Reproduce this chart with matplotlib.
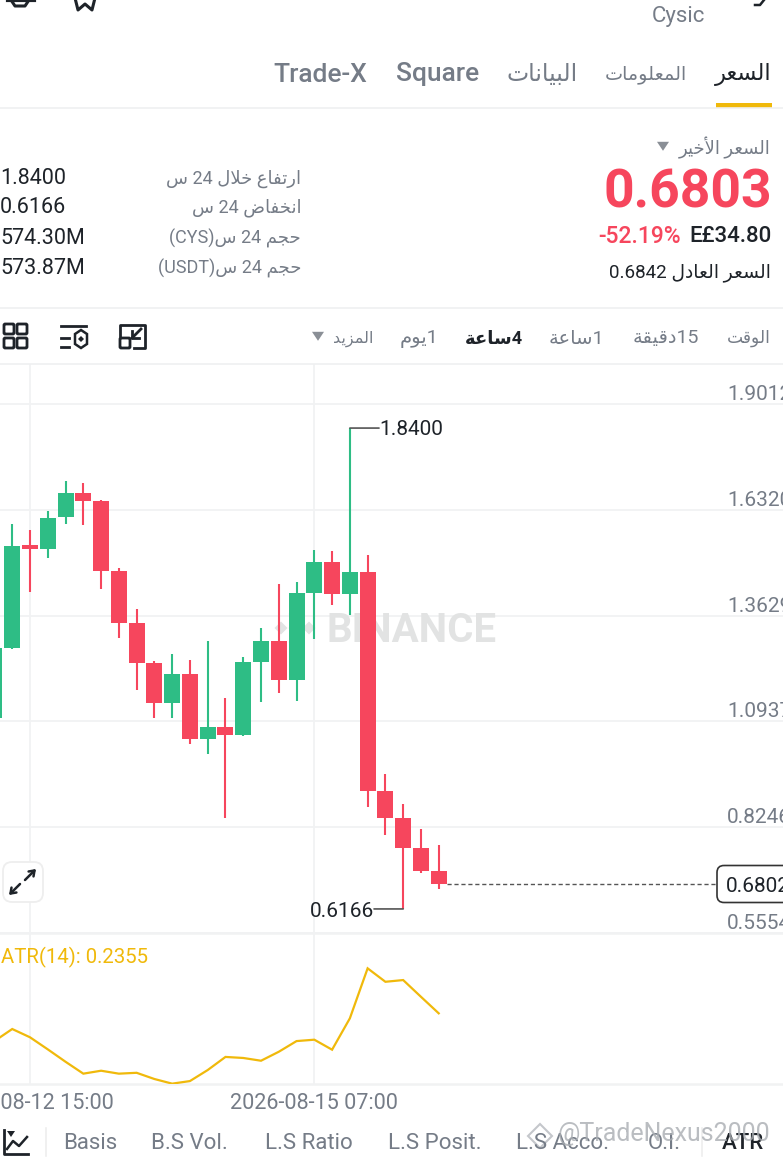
import re
import matplotlib
matplotlib.use('Agg')
import matplotlib.pyplot as plt
from matplotlib.patches import FancyBboxPatch, Rectangle, Polygon

plt.rcParams['font.family'] = ['Roboto', 'DejaVu Sans']

# candles, 4h, oldest first
opens = [1.1024, 1.2797, 1.5417, 1.5323, 1.6130, 1.6748, 1.6537, 1.4764, 1.3441, 1.2415, 1.1405, 1.2136, 1.0490,
         1.0787, 1.0599, 1.2456, 1.2975, 1.1978, 1.4200, 1.4987, 1.4181, 1.4738, 0.9179, 0.8475, 0.7727, 0.7142]
closes = [1.2805, 1.5407, 1.5323, 1.6119, 1.6748, 1.6544, 1.4764, 1.3441, 1.2415, 1.1405, 1.2136, 1.0490, 1.0787,
          1.0599, 1.2448, 1.2975, 1.1978, 1.4200, 1.4987, 1.4181, 1.4738, 0.9179, 0.8475, 0.7727, 0.7142, 0.6803]
highs = [1.2805, 1.5952, 1.5807, 1.6290, 1.7061, 1.6995, 1.6577, 1.4840, 1.3797, 1.2474, 1.2644, 1.2499, 1.2975,
         1.1525, 1.2583, 1.3306, 1.4433, 1.4496, 1.5305, 1.5280, 1.8400, 1.5160, 0.9609, 0.8826, 0.8200, 0.7803]
lows = [1.1024, 1.2779, 1.4222, 1.5087, 1.5959, 1.5926, 1.4313, 1.3059, 1.1729, 1.1031, 1.1031, 1.0355, 1.0108,
        0.8472, 1.0574, 1.1423, 1.1667, 1.1456, 1.3021, 1.3906, 1.3639, 0.8760, 0.8052, 0.6166, 0.7073, 0.6686]
atr = [0.2194, 0.2264, 0.2216, 0.2146, 0.2074, 0.2005, 0.2022, 0.2005, 0.2010, 0.1974, 0.1947, 0.1962, 0.2026,
       0.2102, 0.2096, 0.2080, 0.2132, 0.2194, 0.2202, 0.2144, 0.2326, 0.2616, 0.2538, 0.2548, 0.2451, 0.2355]

price_ticks = [1.9012, 1.6320, 1.3629, 1.0937, 0.8246, 0.5554]
price_labels = ['1.9012', '1.6320', '1.3629', '1.0937', '0.8246', '0.5554']
date_ticks = [2, 18]
date_labels = ['2026-08-12 15:00', '2026-08-15 07:00']
last_tag = 0.6802
high_label = '1.8400'
low_label = '0.6166'
atr_label = 'ATR(14): 0.2355'

tabs = ['السعر', 'المعلومات', 'البيانات', 'Square', 'Trade-X']
intervals = ['الوقت', '15دقيقة', '1ساعة', '4ساعة', '1يوم', 'المزيد']
stat_names = ['ارتفاع خلال 24 س', 'انخفاض 24 س', 'حجم 24 س(CYS)', 'حجم 24 س(USDT)']
stat_values = ['1.8400', '0.6166', '574.30M', '573.87M']
bottom_tabs = ['Basis', 'B.S Vol.', 'L.S Ratio', 'L.S Posit.', 'L.S Acco.', 'O.I.', 'ATR']

GREEN = '#2ebd85'
RED = '#f6465d'
GOLD = '#f0b90b'
DARK = '#1e2329'
GRAY = '#757c87'
GRID = '#f1f2f3'
MARK = '#e2e3e3'

# matplotlib has no arabic shaping, so pick the presentation forms by hand
AR_FORMS = {
    'ا': (0xFE8D, 0xFE8E, None, None), 'أ': (0xFE83, 0xFE84, None, None),
    'ب': (0xFE8F, 0xFE90, 0xFE91, 0xFE92), 'ة': (0xFE93, 0xFE94, None, None),
    'ت': (0xFE95, 0xFE96, 0xFE97, 0xFE98), 'ج': (0xFE9D, 0xFE9E, 0xFE9F, 0xFEA0),
    'ح': (0xFEA1, 0xFEA2, 0xFEA3, 0xFEA4), 'خ': (0xFEA5, 0xFEA6, 0xFEA7, 0xFEA8),
    'د': (0xFEA9, 0xFEAA, None, None), 'ر': (0xFEAD, 0xFEAE, None, None),
    'ز': (0xFEAF, 0xFEB0, None, None), 'س': (0xFEB1, 0xFEB2, 0xFEB3, 0xFEB4),
    'ض': (0xFEBD, 0xFEBE, 0xFEBF, 0xFEC0), 'ع': (0xFEC9, 0xFECA, 0xFECB, 0xFECC),
    'ف': (0xFED1, 0xFED2, 0xFED3, 0xFED4), 'ق': (0xFED5, 0xFED6, 0xFED7, 0xFED8),
    'ل': (0xFEDD, 0xFEDE, 0xFEDF, 0xFEE0), 'م': (0xFEE1, 0xFEE2, 0xFEE3, 0xFEE4),
    'ن': (0xFEE5, 0xFEE6, 0xFEE7, 0xFEE8), 'و': (0xFEED, 0xFEEE, None, None),
    'ي': (0xFEF1, 0xFEF2, 0xFEF3, 0xFEF4),
}
LAM_ALEF = {'ا': (0xFEFB, 0xFEFC), 'أ': (0xFEF7, 0xFEF8)}
MIRROR = {'(': ')', ')': '('}


def shape(text):
    out = []
    i = 0
    while i < len(text):
        c = text[i]
        if c not in AR_FORMS:
            out.append(c)
            i += 1
            continue
        prev = text[i - 1] if i > 0 else ''
        joins_prev = prev in AR_FORMS and AR_FORMS[prev][2] is not None
        nxt = text[i + 1] if i + 1 < len(text) else ''
        if c == 'ل' and nxt in LAM_ALEF:
            out.append(chr(LAM_ALEF[nxt][1 if joins_prev else 0]))
            i += 2
            continue
        iso, fin, ini, med = AR_FORMS[c]
        joins_next = nxt in AR_FORMS and ini is not None
        if joins_prev and joins_next:
            out.append(chr(med))
        elif joins_prev:
            out.append(chr(fin))
        elif joins_next:
            out.append(chr(ini))
        else:
            out.append(chr(iso))
        i += 1
    return ''.join(out)


def rtl(text):
    # visual order: latin and digit runs stay, the rest is flipped
    runs = re.findall(r'[A-Za-z0-9.]+|[^A-Za-z0-9.]+', text)
    parts = []
    for run in reversed(runs):
        if re.match(r'[A-Za-z0-9.]', run):
            parts.append(run)
        else:
            parts.append(''.join(MIRROR.get(c, c) for c in reversed(shape(run))))
    return ''.join(parts)


W, H = 783, 1160
fig = plt.figure(figsize=(W / 100, H / 100), dpi=100)
fig.patch.set_facecolor('white')


def px_axes(left, top, right, bottom):
    return fig.add_axes([left / W, 1 - bottom / H, (right - left) / W, (bottom - top) / H])


idx = list(range(len(opens)))
# one candle = 17.77 px, candle 2 sits on x=30
xlim = (2 - 30 / 17.77, 2 + (W - 30) / 17.77)

ax = px_axes(0, 364, W, 933)
ax.set_xlim(xlim)
ax.set_ylim(0.5554, 2.0030)
ax.set_facecolor('none')
for s in ax.spines.values():
    s.set_visible(False)
ax.set_yticks(price_ticks)
ax.set_xticks(date_ticks)
ax.set_xticklabels([])
ax.set_yticklabels([])
ax.tick_params(length=0)
ax.grid(True, color=GRID, lw=1.3)
ax.set_axisbelow(True)

for tick, label in zip(price_ticks, price_labels):
    ax.annotate(label, xy=(727 / W, tick), xycoords=('axes fraction', 'data'), xytext=(0, 0),
                textcoords='offset points', ha='left', va='bottom', fontsize=15, color=GRAY, annotation_clip=False)

# exchange watermark behind the candles
ax.text(412 / W, 0.531, 'BINANCE', transform=ax.transAxes, ha='center', va='center',
        fontsize=29, fontweight='bold', color=MARK, zorder=1)
for dx, dy in [(0, 0), (-14, 0), (14, 0), (0, -14), (0, 14)]:
    cx, cy = 295 + dx, 628 + dy
    ax.add_patch(Polygon([((cx - 6.5) / W, (933 - cy) / 569), (cx / W, (933 - cy + 6.5) / 569),
                          ((cx + 6.5) / W, (933 - cy) / 569), (cx / W, (933 - cy - 6.5) / 569)],
                         closed=True, transform=ax.transAxes, fc=MARK, ec='none', zorder=1))

colors = [GREEN if c >= o else RED for o, c in zip(opens, closes)]
ax.vlines(idx, lows, highs, colors=colors, lw=1.5, zorder=3)
ax.bar(idx, [abs(c - o) for o, c in zip(opens, closes)], bottom=[min(o, c) for o, c in zip(opens, closes)],
       width=0.9, color=colors, lw=0, zorder=4)

# high and low callouts
hi_i = highs.index(max(highs))
lo_i = lows.index(min(lows))
ax.annotate(high_label, xy=(hi_i, highs[hi_i]), xytext=(21, -1), textcoords='offset points', va='center', ha='left',
            fontsize=15, color=DARK)
ax.annotate(low_label, xy=(lo_i, lows[lo_i]), xytext=(-21, -1.5), textcoords='offset points', va='center', ha='right',
            fontsize=15, color=DARK)
ax.annotate('', xy=(hi_i, highs[hi_i]), xytext=(21, 0), textcoords='offset points',
            arrowprops=dict(arrowstyle='-', color='#555555', lw=1.2, shrinkA=0, shrinkB=0))
ax.annotate('', xy=(lo_i, lows[lo_i]), xytext=(-21, 0), textcoords='offset points',
            arrowprops=dict(arrowstyle='-', color='#555555', lw=1.2, shrinkA=0, shrinkB=0))

# last price line and tag
ax.hlines(last_tag, idx[-1] + 0.45, 2 + (717 - 30) / 17.77, colors='#555555', linestyles=(0, (3, 2)), lw=1, zorder=3)
ax.annotate('0.6802', xy=(726 / W, last_tag), xycoords=('axes fraction', 'data'), xytext=(0, -1.5),
            textcoords='offset points', va='center', ha='left', fontsize=15, color=DARK, annotation_clip=False)

ax2 = px_axes(0, 933, W, 1084)
ax2.set_xlim(xlim)
ax2.set_ylim(0.1945, 0.2821)
ax2.set_facecolor('none')
for s in ax2.spines.values():
    s.set_visible(False)
ax2.set_yticks([])
ax2.set_xticks(date_ticks)
ax2.set_xticklabels(date_labels, fontsize=15.6, color=GRAY)
ax2.tick_params(axis='x', length=0, pad=6.5)
ax2.grid(True, axis='x', color=GRID, lw=1.3)
ax2.axhline(0.1945, color=GRID, lw=1.8, clip_on=False)
ax2.axhline(0.2821, color=GRID, lw=1.8, clip_on=False)
ax2.plot(idx, atr, color=GOLD, lw=1.6, solid_joinstyle='miter')
ax2.text(1 / W, 0.841, atr_label, transform=ax2.transAxes, ha='left', va='center', fontsize=14.7, color=GOLD)

# app chrome, in pixel coordinates
ui = fig.add_axes([0, 0, 1, 1])
ui.set_xlim(0, W)
ui.set_ylim(H, 0)
ui.axis('off')
ui.patch.set_alpha(0)


def sep(y, lw=1.2, color='#eff0f1'):
    ui.plot([0, W], [y, y], color=color, lw=lw, solid_capstyle='butt')


def txt(x, y, s, ha='right', size=13, color=GRAY, weight='normal', alpha=1):
    ui.text(x, y + 1.5, s, ha=ha, va='center', fontsize=size, color=color, fontweight=weight, alpha=alpha)


def tri(x, y, s=6, color='#8a8f96'):
    ui.add_patch(Polygon([(x - s, y - s * 0.7), (x + s, y - s * 0.7), (x, y + s * 0.8)], closed=True, fc=color, ec='none'))


def box(x, y, w, h, lw=2, color=DARK, r=1.2):
    ui.add_patch(FancyBboxPatch((x + r, y + r), w - 2 * r, h - 2 * r, boxstyle='round,pad=%s,rounding_size=%s' % (r, r),
                                fc='none', ec=color, lw=lw))


sep(108)
sep(308)
sep(364)
ui.add_patch(Rectangle((716, 103), 56, 5, fc=GOLD, ec='none'))

# top icons, cut by the screenshot edge
ui.plot([8, 34], [0, 0], color=DARK, lw=3)
ui.plot([11, 15, 25, 29], [0, 6, 6, 0], color=DARK, lw=2.2)
ui.plot([75, 78, 85, 92, 95, 94, 96], [-2, 10, 4, 10, -2, -3, -2], color=DARK, lw=2.2)
ui.plot([755, 760, 764], [5, 5, 0], color=DARK, lw=1.8)
txt(705, 15, 'Cysic', size=16)

tab_right = [772, 687, 578, 479, 367]
tab_size = [16.3, 13.8, 17, 19, 19]
for i, (name, right, size) in enumerate(zip(tabs, tab_right, tab_size)):
    label = rtl(name) if i < 3 else name
    if i == 0:
        txt(right, 73, label, size=size, color=DARK)
    elif i < 3:
        txt(right, 73, label, size=size)
    else:
        txt(right, 73, label, size=size, weight='medium')

txt(771, 146, rtl('السعر الأخير'), size=13)
tri(663, 146)
txt(772, 192, '0.6803', size=38.5, color=RED, weight='bold')
txt(772, 235, 'E£34.80', size=16, color=DARK, weight='medium')
txt(681, 235, '-52.19%', size=16.5, color=RED, weight='medium')
txt(771, 271, rtl('السعر العادل 0.6842'), size=13.5, color=DARK)

stat_y = [177, 206, 237, 267]
for name, value, y in zip(stat_names, stat_values, stat_y):
    txt(301, y, rtl(name), size=13)
    txt(0, y, value, ha='left', size=15.5, color=DARK)

interval_right = [771, 699, 604, 523, 438, 373]
interval_size = [12.3, 14, 14, 13, 14, 11.5]
for i, (name, right, size) in enumerate(zip(intervals, interval_right, interval_size)):
    if i == 3:
        txt(right, 337, rtl(name), size=size, color=DARK, weight='bold')
    else:
        txt(right, 337, rtl(name), size=size)
tri(318, 336)

# toolbar icons
for x in (4, 17):
    for y in (324, 338):
        box(x, y, 10, 10)
ui.plot([61, 86], [326, 326], color=DARK, lw=2)
ui.plot([61, 69], [338, 338], color=DARK, lw=2)
ui.plot([61, 69], [347, 347], color=DARK, lw=2)
ui.add_patch(Polygon([(81, 330), (87, 334), (87, 344), (81, 348), (75, 344), (75, 334)], closed=True, fc='none', ec=DARK, lw=1.8))
ui.add_patch(Polygon([(81, 336), (84, 339), (81, 342), (78, 339)], closed=True, fc=DARK, ec='none'))
ui.plot([120, 120, 145, 145, 134], [336, 325, 325, 348, 348], color=DARK, lw=2)
box(120, 338, 10, 10)
ui.plot([141, 132], [329, 338], color=DARK, lw=2)
ui.plot([132, 132, 139], [331, 338, 338], color=DARK, lw=2)

# price tag, runs off the screen on the right
ui.add_patch(FancyBboxPatch((723, 871.5), 80, 25, boxstyle='round,pad=6,rounding_size=7', fc='none', ec='#333333', lw=1.2))

# fullscreen button
ui.add_patch(FancyBboxPatch((5, 864), 36, 36, boxstyle='round,pad=2,rounding_size=9', fc='white', ec='#eeeeee', lw=1.3))
head = '->,head_length=0.35,head_width=0.25'
ui.annotate('', xy=(36, 869), xytext=(25, 880), arrowprops=dict(arrowstyle=head, color=DARK, lw=1.8, shrinkA=0, shrinkB=0))
ui.annotate('', xy=(9, 895), xytext=(20, 884), arrowprops=dict(arrowstyle=head, color=DARK, lw=1.8, shrinkA=0, shrinkB=0))

# bottom tabs
ui.plot([4, 4, 28], [1130, 1154, 1154], color=DARK, lw=2)
ui.plot([7, 13, 19, 27], [1149, 1141, 1146, 1137], color=DARK, lw=1.8)
ui.add_patch(Polygon([(7, 1131), (15, 1131), (11, 1137)], closed=True, fc=DARK, ec='none'))
ui.plot([46, 46], [1128, 1156], color='#eeeeee', lw=1.2)
ui.plot([702, 702], [1128, 1156], color='#eeeeee', lw=1.2)
tab_left = [63, 151, 265, 388, 516, 648, 722]
for name, left in zip(bottom_tabs, tab_left):
    if name == 'ATR':
        txt(left, 1142, name, ha='left', size=16, color=DARK, weight='medium')
    else:
        txt(left, 1142, name, ha='left', size=16)

# screenshot watermark
ui.add_patch(Polygon([(540, 1124), (552, 1136), (540, 1148), (528, 1136)], closed=True, fc='none', ec='#c4c7cb', lw=1.5))
txt(558, 1132, '@TradeNexus2000', ha='left', size=18, color='#a9adb2', alpha=0.8)

fig.savefig('out.png', dpi=100, facecolor='white')
